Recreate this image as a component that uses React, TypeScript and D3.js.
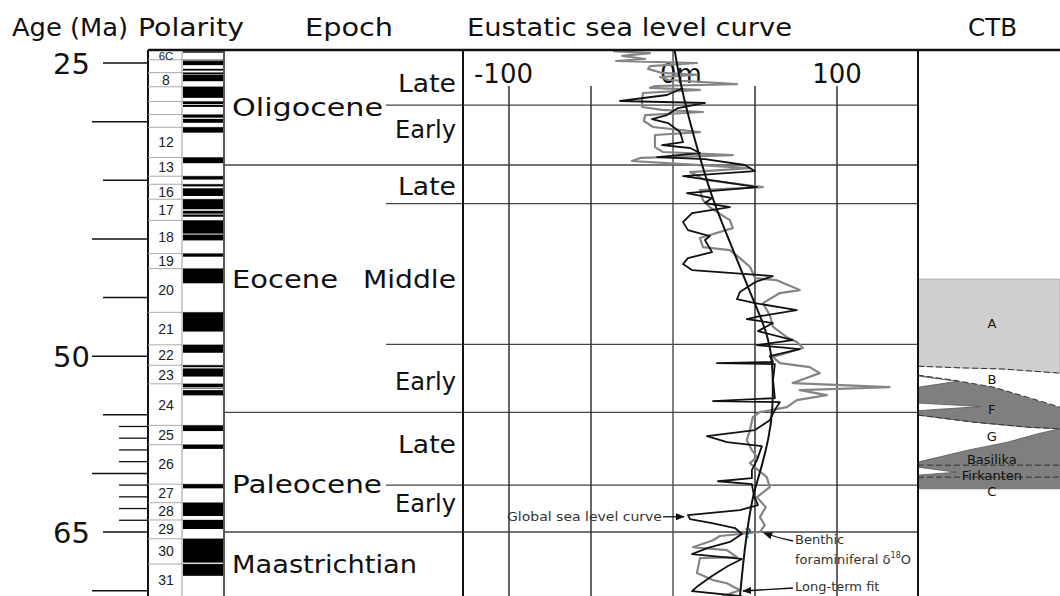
import React from 'react';
import * as d3 from 'd3';

// ---------- DATA ----------
const ageLabelValues = [25, 50, 65];
const longTickAges = [30, 40, 50, 60, 70];
const midTickAges = [25, 35, 45, 55, 65];
const shortTickAges = [56, 57, 58, 59, 61, 62, 63, 64];

const chronNames = ['6C','7','8','9','10','11','12','13','15','16','17','18','19','20','21','22','23','24','25','26','27','28','29','30','31','32'];
const chronTopAges = [23.353,24.730,25.823,27.027,28.283,29.401,30.479,33.058,34.655,35.343,36.618,38.426,41.257,42.536,46.264,49.037,50.778,52.364,55.904,57.554,60.920,62.499,63.976,65.578,67.735,71.071];
const chronLabelled = ['6C','8','12','13','16','17','18','19','20','21','22','23','24','25','26','27','28','29','30','31'];
const normalPolarity: [number, number][] = [
  [23.353,23.535],[23.677,23.800],[23.999,24.118],[24.730,24.781],[24.835,25.183],[25.496,25.648],
  [25.823,25.951],[25.992,26.554],[27.027,27.972],[28.283,28.512],[28.578,28.745],[29.401,29.662],
  [29.765,30.098],[30.479,30.939],[33.058,33.545],[34.655,34.940],[35.343,35.526],[35.685,36.341],
  [36.618,37.473],[37.604,37.848],[37.920,38.113],[38.426,39.552],[39.631,40.130],[41.257,41.521],
  [42.536,43.789],[46.264,47.906],[49.037,49.714],[50.778,50.946],[51.047,51.743],[52.364,52.663],
  [52.757,52.801],[52.903,53.347],[55.904,56.391],[57.554,57.911],[60.920,61.276],[62.499,63.634],
  [63.976,64.745],[65.578,67.610],[67.735,68.737]
];

const headerNames = ['Age (Ma)', 'Polarity', 'Epoch', 'Eustatic sea level curve', 'CTB'];

const epochNames = ['Oligocene', 'Eocene', 'Paleocene', 'Maastrichtian'];
const epochLabelAges = [29.5, 44.2, 61.7, 68.5];
const epochBoundaries = [33.7, 54.8, 65.0];
const subEpochBoundaries = [28.6, 37.0, 49.0, 61.0];
const subEpochNames = ['Late', 'Early', 'Late', 'Middle', 'Early', 'Late', 'Early'];
const subEpochLabelAges = [27.47, 31.4, 36.26, 44.2, 52.9, 58.27, 63.3];

const seaTicks = [-100, -50, 0, 50, 100];
const seaTickLabels = ['-100', '', '0m', '', '100'];

// [age (Ma), sea level (m)]
const benthicCurve: [number, number][] = [
  [23.98,-36.5],[24.15,-14],[24.4,-31],[24.66,-17],[24.83,-34.7],[25.0,14.6],[25.26,-14],[25.5,-15.2],
  [25.85,-6.7],[26.0,14.6],[26.2,-7.9],[26.45,-3],[26.8,39],[26.96,-11],[27.13,-14],[27.3,16.4],
  [27.56,-18.3],[28.16,-18.9],[28.75,-18.9],[29.0,-6.7],[29.18,18.3],[29.44,-17],[29.95,-17.7],
  [30.46,-12.2],[30.89,16.4],[31.14,-11],[32.17,-11],[32.59,-6.1],[32.85,36.5],[33.1,-20],[33.36,-25],
  [33.62,6.1],[33.96,47],[34.3,10.4],[34.98,19.5],[35.58,54.8],[35.84,16.4],[36.7,18.3],[37.3,22.5],
  [37.97,29.8],[38.4,34.7],[39.08,36.5],[39.93,16.4],[40.7,18.3],[40.96,34.7],[41.64,40.8],[42.4,47],
  [43.35,50],[43.52,63.3],[44.37,77.3],[44.62,65.2],[45.48,54.8],[46.5,59],[47.5,61],[48.38,69.4],
  [48.8,75.5],[49.3,79.2],[50.08,61],[50.6,65.2],[50.94,83.4],[51.45,89.5],[52.3,73],[52.64,132],
  [52.9,77.3],[53.33,93.8],[53.75,75.5],[54.35,69.4],[54.78,53],[55.2,48.7],[56.31,46.9],[57.17,45],
  [58.02,48.1],[58.6,51.2],[59.13,46.9],[60.32,57.2],[61.18,59],[62.03,51.2],[62.88,56.6],[63.73,53],
  [64.42,56],[65.0,53],[65.34,28.6],[65.7,24.4],[66.3,12.2],[66.55,32.9],[67.15,39],[67.23,16.4],
  [68.5,14.6],[69.1,24.4],[69.37,32.9],[69.97,40.8],[70.48,29.8]
];

const globalCurve: [number, number][] = [
  [27.13,6.1],[27.73,-3.7],[28.24,-32.3],[28.41,19.5],[28.84,3],[29.44,-3.7],[29.78,-12.8],[30.12,-3],
  [30.89,4.3],[31.74,6.1],[32.0,-6.7],[32.25,10.4],[32.68,16.4],[33.02,-9.7],[33.19,19.5],[33.7,43.8],
  [34.22,49.9],[34.64,6.1],[35.07,27.4],[35.58,51.2],[36.1,8.5],[36.52,23.8],[36.94,19.5],[37.29,34.7],
  [37.8,11.6],[38.57,6.1],[39.25,9.1],[39.76,22.5],[40.1,19.5],[41.13,23.8],[41.64,9.1],[42.15,6.1],
  [42.66,11.6],[43.17,60.9],[43.69,50],[44.54,40.8],[45.14,39],[45.48,50],[46.07,75.5],[46.59,53],
  [46.84,45],[47.18,60.9],[47.87,51.8],[48.63,73],[49.06,51.2],[49.4,77.3],[50.0,59],[50.5,61],
  [50.6,26.8],[50.68,62.1],[52.05,61],[53.58,62.1],[53.84,24.4],[53.92,65.2],[54.6,62.1],[55.46,59],
  [56.31,50],[56.82,20.7],[57.34,32.9],[57.68,54.2],[58.87,51.2],[59.73,48.1],[60.41,48.1],[60.67,27.4],
  [60.92,48.1],[61.86,49.3],[62.71,51.8],[63.14,40.8],[63.56,9.1],[63.9,10.4],[64.24,23.8],[64.66,37.8],
  [65.17,42],[65.85,34.7],[66.36,21.3],[66.88,11.6],[67.3,42],[67.9,33.5],[68.75,23.8],[69.6,15.2],
  [70.05,11.6],[70.48,42]
];

const longTermFit: [number, number][] = [
  [23.9,1],[26.7,4.3],[31,12],[36.7,24],[40,34],[44.6,47],[47.8,57],[50.3,61],[54.6,61],[57,58.5],
  [60,53],[61.8,48.7],[65,45],[68,42.5],[70.5,40.8]
];

// CTB units: [fraction across column, age]
const ctbUnitA: [number, number][] = [[0,43.43],[1,43.43],[1,51.45],[0.6,51.1],[0.3,51.0],[0,50.86]];
const ctbDark: [number, number][] = [[0,51.62],[0.25,52.05],[0.53,52.64],[0.77,53.5],[1,54.35],[1,61.35],[0,61.35]];
const ctbWhiteTongues: [number, number][][] = [
  [[0,51.7],[0.28,52.15],[0,52.65]],
  [[0,54.0],[0.44,54.3],[0,54.65]],
  [[0,55.03],[0.39,55.63],[0.77,56.06],[1,56.2],[0.86,56.57],[0.63,57.34],[0.35,58.02],[0,59.04]],
  [[0,59.47],[0.27,59.9],[0,60.15]]
];
const ctbDashedLines: [number, number][][] = [
  [[0,50.86],[0.3,51.0],[0.6,51.1],[1,51.45]],
  [[0,51.62],[0.25,52.05],[0.53,52.64],[0.77,53.5],[1,54.35]],
  [[0,55.03],[0.39,55.63],[0.77,56.06],[1,56.2]],
  [[0,59.3],[1,59.3]],
  [[0,60.32],[1,60.32]]
];
const ctbLabels = ['A', 'B', 'F', 'G', 'Basilika', 'Firkanten', 'C'];
const ctbLabelAges = [47.6, 52.4, 54.9, 57.2, 59.2, 60.6, 61.9];

// ---------- LAYOUT ----------
const W = 1060, H = 596;
const FONT = "'DejaVu Sans', sans-serif";
const yAge = d3.scaleLinear().domain([25, 65]).range([63, 532]);
const xSea = d3.scaleLinear().domain([-100, 100]).range([509, 837]);
const xCtb = d3.scaleLinear().domain([0, 1]).range([918, 1060]);

const AXIS_X = 148, CHRON_R = 182, POL_R = 224, EPOCH_R = 463, SEA_R = 918, TOP = 50;
const headerX = [12, 138, 305, 467, 968];
const headerW = [116, 106, 88, 325, 49];
const epochW = [151, 106, 150, 185];
const subEpochW = [58, 61, 58, 93, 61, 58, 61];

export default function App() {
  const seaLine = d3.line<[number, number]>().x(d => xSea(d[1])).y(d => yAge(d[0]));
  const fitLine = d3.line<[number, number]>().x(d => xSea(d[1])).y(d => yAge(d[0])).curve(d3.curveBasis);
  const ctbPath = d3.line<[number, number]>().x(d => xCtb(d[0])).y(d => yAge(d[1]));
  const ageTop = yAge.invert(TOP), ageBot = yAge.invert(H);

  const chronLabelEls = chronNames.map((c, i) => {
    if (!chronLabelled.includes(c) || i === chronNames.length - 1) return null;
    const a0 = Math.max(chronTopAges[i], ageTop), a1 = Math.min(chronTopAges[i + 1], ageBot);
    const yc = (yAge(a0) + yAge(a1)) / 2;
    return (
      <text key={'cl' + c} x={(AXIS_X + CHRON_R) / 2 + 1} y={yc + 5} textAnchor="middle"
        fontFamily="'Liberation Sans', Arial, sans-serif" fontSize={c === '6C' ? 11.5 : 14} fill="#222">{c}</text>
    );
  });

  return (
    <svg width={W} height={H} viewBox={`0 0 ${W} ${H}`} style={{ position: 'absolute', left: 0, top: 0, background: '#fff' }}>
      <defs>
        <clipPath id="seaclip"><rect x={EPOCH_R} y={TOP} width={SEA_R - EPOCH_R} height={H - TOP} /></clipPath>
        <clipPath id="chronclip"><rect x={AXIS_X} y={TOP} width={POL_R - AXIS_X} height={H - TOP} /></clipPath>
        <marker id="arr" viewBox="0 0 10 10" refX="9" refY="5" markerWidth="7" markerHeight="7" orient="auto">
          <path d="M0,1 L10,5 L0,9 z" fill="#111" />
        </marker>
      </defs>
      <rect x={0} y={0} width={W} height={H} fill="#fff" />

      {/* Headers */}
      <g fontFamily={FONT} fontSize={24} fill="#111">
        {headerNames.map((h, i) => (
          <text key={'h' + i} x={headerX[i]} y={36} textLength={headerW[i]} lengthAdjust="spacingAndGlyphs">{h}</text>
        ))}
      </g>

      {/* Age axis */}
      <line x1={AXIS_X} x2={AXIS_X} y1={TOP} y2={H} stroke="#111" strokeWidth={2} />
      {longTickAges.map(a => <line key={'lt' + a} x1={92} x2={AXIS_X} y1={yAge(a)} y2={yAge(a)} stroke="#111" strokeWidth={1.5} />)}
      {midTickAges.map(a => <line key={'mt' + a} x1={103} x2={AXIS_X} y1={yAge(a)} y2={yAge(a)} stroke="#111" strokeWidth={1.5} />)}
      {shortTickAges.map(a => <line key={'st' + a} x1={119} x2={AXIS_X} y1={yAge(a)} y2={yAge(a)} stroke="#111" strokeWidth={1.3} />)}
      {ageLabelValues.map(a => (
        <text key={'al' + a} x={90} y={yAge(a) + 11} textAnchor="end" fontFamily={FONT} fontSize={29} fill="#111">{a}</text>
      ))}

      {/* Chron column + polarity */}
      <g clipPath="url(#chronclip)">
        {chronTopAges.map((a, i) => (
          <line key={'cs' + i} x1={AXIS_X} x2={POL_R} y1={yAge(a)} y2={yAge(a)} stroke="#aaa" strokeWidth={1} />
        ))}
        {normalPolarity.map((d, i) => (
          <rect key={'np' + i} x={CHRON_R + 1} width={POL_R - CHRON_R - 2} y={yAge(d[0])} height={yAge(d[1]) - yAge(d[0])} fill="#000" />
        ))}
      </g>
      {chronLabelEls}
      <line x1={CHRON_R} x2={CHRON_R} y1={TOP} y2={H} stroke="#999" strokeWidth={1} />
      <line x1={POL_R} x2={POL_R} y1={TOP} y2={H} stroke="#222" strokeWidth={1.5} />

      {/* Epoch column */}
      {epochBoundaries.map(a => <line key={'eb' + a} x1={POL_R} x2={SEA_R} y1={yAge(a)} y2={yAge(a)} stroke="#444" strokeWidth={1.3} />)}
      {subEpochBoundaries.map(a => <line key={'sb' + a} x1={386} x2={SEA_R} y1={yAge(a)} y2={yAge(a)} stroke="#444" strokeWidth={1.3} />)}
      <g fontFamily={FONT} fontSize={24} fill="#111">
        {epochNames.map((n, i) => (
          <text key={'en' + n} x={232} y={yAge(epochLabelAges[i])} textLength={epochW[i]} lengthAdjust="spacingAndGlyphs">{n}</text>
        ))}
        {subEpochNames.map((n, i) => (
          <text key={'sn' + i} x={456 - subEpochW[i]} y={yAge(subEpochLabelAges[i])} textLength={subEpochW[i]} lengthAdjust="spacingAndGlyphs">{n}</text>
        ))}
      </g>

      {/* Sea level panel */}
      {seaTicks.map(v => (
        <line key={'g' + v} x1={xSea(v)} x2={xSea(v)} y1={v === 0 ? TOP : 86} y2={H} stroke={v === 0 ? '#555' : '#333'} strokeWidth={1.5} />
      ))}
      <g fontFamily={FONT} fontSize={26} fill="#111">
        {seaTicks.map((v, i) => seaTickLabels[i] ? (
          <text key={'sl' + v} x={xSea(v) + (v < 0 ? 24 : v === 0 ? -13 : 0)} y={83}
            textAnchor={v < 0 ? 'end' : v === 0 ? 'start' : 'middle'}>{seaTickLabels[i]}</text>
        ) : null)}
      </g>
      <g clipPath="url(#seaclip)" fill="none">
        <path d={seaLine(benthicCurve) || ''} stroke="#858585" strokeWidth={2.2} strokeLinejoin="round" />
        <path d={seaLine(globalCurve) || ''} stroke="#111" strokeWidth={1.8} strokeLinejoin="round" />
        <path d={fitLine(longTermFit) || ''} stroke="#111" strokeWidth={2} />
      </g>
      <line x1={EPOCH_R} x2={EPOCH_R} y1={TOP} y2={H} stroke="#111" strokeWidth={2} />

      {/* Annotations */}
      <g fontFamily={FONT} fontSize={13} fill="#333">
        <text x={507} y={yAge(63.7) + 4.5} textLength={155} lengthAdjust="spacingAndGlyphs">Global sea level curve</text>
        <line x1={663} x2={684} y1={yAge(63.7)} y2={yAge(63.7)} stroke="#111" strokeWidth={1.3} markerEnd="url(#arr)" />
        <text x={748} y={yAge(65.2) + 4} textAnchor="middle" fontSize={14}>?</text>
        <text x={795} y={544}>Benthic</text>
        <text x={795} y={564}>foraminiferal δ<tspan fontSize={8} dy={-6}>18</tspan><tspan dy={6}>O</tspan></text>
        <path d="M793,541 Q778,538 764,533" fill="none" stroke="#111" strokeWidth={1.3} markerEnd="url(#arr)" />
        <text x={795} y={591}>Long-term fit</text>
        <line x1={793} x2={743} y1={588} y2={591} stroke="#111" strokeWidth={1.3} markerEnd="url(#arr)" />
      </g>

      {/* CTB */}
      <path d={(ctbPath(ctbUnitA) || '') + 'Z'} fill="#cfcfcf" stroke="#aaa" strokeWidth={0.8} />
      <path d={(ctbPath(ctbDark) || '') + 'Z'} fill="#7f7f7f" />
      {ctbWhiteTongues.map((p, i) => <path key={'wt' + i} d={(ctbPath(p) || '') + 'Z'} fill="#fff" stroke="#555" strokeWidth={0.8} />)}
      {ctbDashedLines.map((p, i) => <path key={'dl' + i} d={ctbPath(p) || ''} fill="none" stroke="#333" strokeWidth={1} strokeDasharray="6 3" />)}
      <g fontFamily={FONT} fontSize={13} fill="#111" textAnchor="middle">
        {ctbLabels.map((l, i) => <text key={'ct' + l} x={xCtb(0.52)} y={yAge(ctbLabelAges[i])}>{l}</text>)}
      </g>
      <line x1={SEA_R} x2={SEA_R} y1={TOP} y2={H} stroke="#111" strokeWidth={2} />

      {/* Top rule */}
      <line x1={AXIS_X} x2={W} y1={TOP} y2={TOP} stroke="#111" strokeWidth={2.5} />
    </svg>
  );
}
